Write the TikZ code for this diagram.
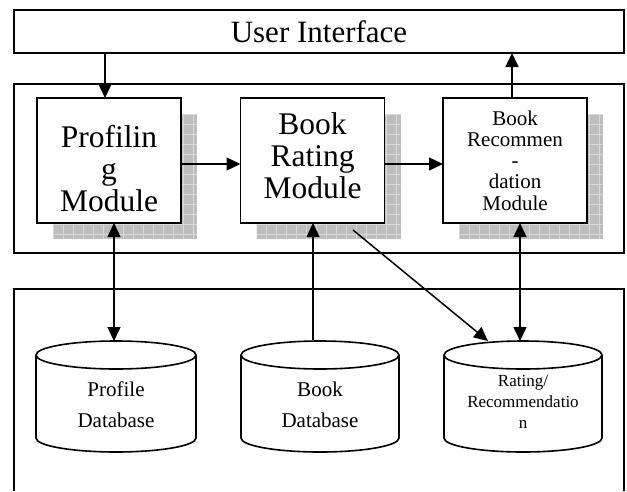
\documentclass[tikz,border=0pt]{standalone}
\usepackage{fontspec}
\setmainfont{Liberation Serif}
\usetikzlibrary{arrows.meta}
\begin{document}
\begin{tikzpicture}[x=1pt,y=-1pt,
  outer/.style={draw, line width=1.3pt, inner sep=0pt, outer sep=0pt},
  modbox/.style={draw, fill=white, line width=1.6pt, minimum width=144pt, minimum height=125pt, inner sep=0pt, outer sep=0pt},
  shadowfill/.style={fill=gray!52},
  gridline/.style={draw=gray!30, line width=0.5pt},
  bigtxt/.style={font=\fontsize{31.5}{32}\selectfont, align=center, inner sep=0pt},
  midtxt/.style={font=\fontsize{21}{21.3}\selectfont, align=center, inner sep=0pt},
  cyltxt/.style={font=\fontsize{21}{31}\selectfont, align=center, inner sep=0pt},
  smalltxt/.style={font=\fontsize{17}{21}\selectfont, align=center, inner sep=0pt},
  arr/.style={line width=1.5pt, -{Triangle[length=14pt,width=13pt]}},
  darr/.style={line width=1.5pt, {Triangle[length=14pt,width=13pt]}-{Triangle[length=14pt,width=13pt]}},
  cyl/.style={line width=1.6pt, fill=white}
]
\useasboundingbox (0,0) rectangle (627,491);
\fill[white] (0,0) rectangle (627,491);

% outer containers
\node[outer, minimum width=610pt, minimum height=43pt, font=\fontsize{31}{32}\selectfont] (ui) at (319,31.5) {User Interface};
\node[outer, minimum width=610pt, minimum height=169pt] (mid) at (319,168.5) {};
\draw[line width=1.3pt] (14,491) -- (14,289) -- (624,289) -- (624,491);

% shadows
\foreach \cx in {109,312.5,515}{
  \fill[shadowfill] (\cx-56,114) rectangle (\cx+88,239);
  \begin{scope}
    \clip (\cx-56,114) rectangle (\cx+88,239);
    \foreach \i in {0,...,15} \draw[gridline] (\cx-56+\i*10,114) -- ++(0,125);
    \foreach \j in {0,...,13} \draw[gridline] (\cx-56,114+\j*10) -- ++(144,0);
  \end{scope}
}

% modules
\node[modbox] (prof) at (109,160.5) {};
\node[modbox] (rate) at (312.5,160.5) {};
\node[modbox] (reco) at (515,160.5) {};
\node[bigtxt] (proft) at (109,169) {Profilin\\g\\Module};
\node[bigtxt] (ratet) at (312.5,156) {Book\\Rating\\Module};
\node[midtxt] (recot) at (515,160.5) {Book\\Recommen\\-\\dation\\Module};

% cylinders
\foreach \cx/\rx in {116/80,320/79,523/79}{
  \draw[cyl] (\cx-\rx,355) -- (\cx-\rx,438) arc[start angle=180, end angle=0, x radius=\rx, y radius=14]
     -- (\cx+\rx,355) arc[start angle=0, end angle=-180, x radius=\rx, y radius=14] -- cycle;
  \draw[line width=1.6pt] (\cx-\rx,355) arc[start angle=180, end angle=0, x radius=\rx, y radius=14];
}
\node[cyltxt] (pdbt) at (116,405) {Profile\\Database};
\node[cyltxt] (bdbt) at (320,405) {Book\\Database};
\node[smalltxt] (rdbt) at (523,402) {Rating/\\Recommendatio\\n};

\coordinate (pdbtop) at (114,341);
\coordinate (bdbtop) at (313,340);
\coordinate (rdbtopA) at (488,341);
\coordinate (rdbtopB) at (520,341);
\coordinate (diag) at (353,230);

% connectors
\draw[arr] (ui.south -| 105,0) -- (prof.north -| 105,0);
\draw[arr] (reco.north -| 512,0) -- (ui.south -| 512,0);
\draw[arr] ([yshift=-3.5pt]prof.east) -- ([yshift=-3.5pt]rate.west);
\draw[arr] ([yshift=-3.5pt]rate.east) -- ([yshift=-3.5pt]reco.west);
\draw[darr] (prof.south -| pdbtop) -- (pdbtop);
\draw[arr] (bdbtop) -- (rate.south -| bdbtop);
\draw[arr] (diag) -- (rdbtopA);
\draw[darr] (reco.south -| rdbtopB) -- (rdbtopB);
\end{tikzpicture}
\end{document}
